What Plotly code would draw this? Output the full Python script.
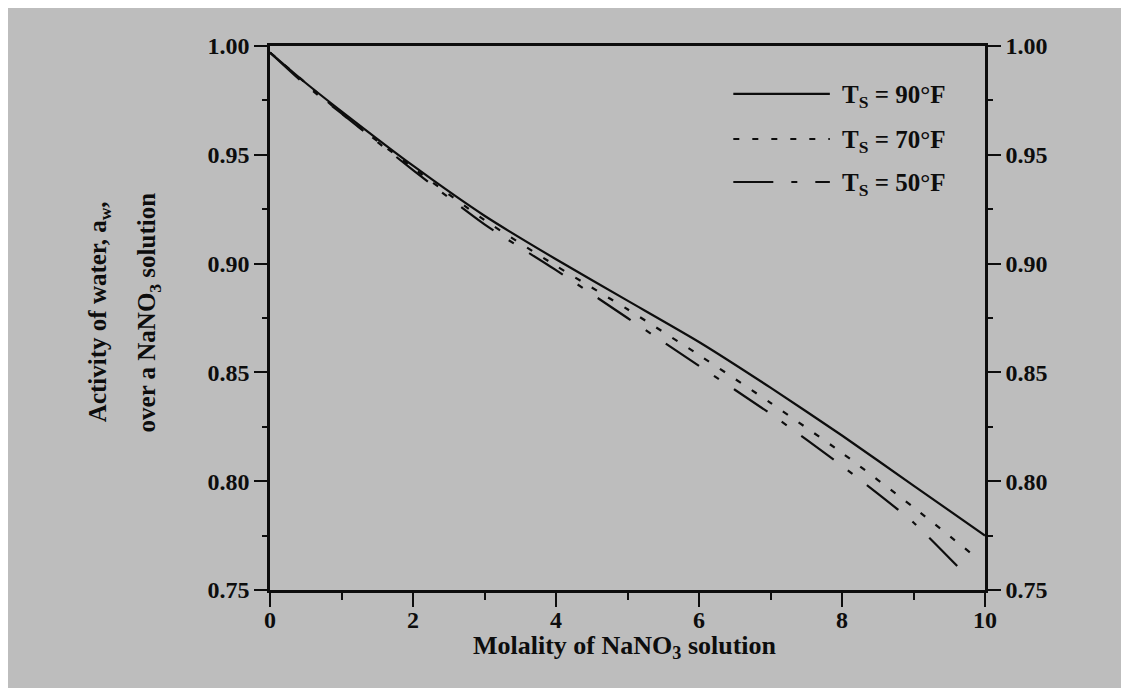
import plotly.graph_objects as go

# Molality of NaNO3 solution (mol/kg) and activity of water a_w
m_90 = [0, 0.5, 1, 2, 3, 4, 5, 6, 7, 8, 9, 10]
aw_90 = [0.997, 0.983, 0.970, 0.945, 0.922, 0.902, 0.883, 0.864, 0.843, 0.821, 0.798, 0.775]

m_70 = [0, 0.5, 1, 2, 3, 4, 5, 6, 7, 8, 9, 9.8]
aw_70 = [0.997, 0.983, 0.969, 0.944, 0.920, 0.899, 0.879, 0.858, 0.836, 0.813, 0.788, 0.767]

m_50 = [0, 0.5, 1, 2, 3, 4, 5, 6, 7, 8, 9, 9.7]
aw_50 = [0.997, 0.982, 0.969, 0.943, 0.918, 0.897, 0.875, 0.853, 0.831, 0.807, 0.781, 0.758]

names = ["T<sub>S</sub> = 90°F", "T<sub>S</sub> = 70°F", "T<sub>S</sub> = 50°F"]

x_ticks = [0, 2, 4, 6, 8, 10]
y_ticks = [0.75, 0.80, 0.85, 0.90, 0.95, 1.00]
y_ticklabels = ["0.75", "0.80", "0.85", "0.90", "0.95", "1.00"]

FONT = "Liberation Serif"
BG = "#bdbdbd"
INK = "#0d0d0d"
DASHES = ["solid", "6px,13px", "40px,18px,6px,18px"]

fig = go.Figure()
series = [(m_90, aw_90), (m_70, aw_70), (m_50, aw_50)]
for (mx, aw), nm, dsh in zip(series, names, DASHES):
    fig.add_trace(go.Scatter(x=mx, y=aw, mode="lines", name=nm, showlegend=False,
                             line=dict(color=INK, width=2.2, dash=dsh, shape="spline", smoothing=0.6)))
# invisible trace to carry the right-hand axis
fig.add_trace(go.Scatter(x=m_90, y=aw_90, mode="lines", yaxis="y2", showlegend=False,
                         hoverinfo="skip", line=dict(color="rgba(0,0,0,0)", width=0)))

tick_font = dict(family=FONT, size=24, color=INK, weight="bold")
title_font = dict(family=FONT, size=25, color=INK, weight="bold")

# hand-drawn legend (long line samples as in the original figure)
legend_rows_y = [0.908, 0.825, 0.746]
shapes = []
annotations = []
for yy, nm, dsh in zip(legend_rows_y, names, DASHES):
    shapes.append(dict(type="line", xref="paper", yref="paper", x0=0.648, x1=0.783,
                       y0=yy + 0.004, y1=yy + 0.004, line=dict(color=INK, width=2.2, dash=dsh)))
    annotations.append(dict(text=nm, xref="paper", yref="paper", x=0.797, y=yy,
                            xanchor="left", yanchor="middle", showarrow=False,
                            font=dict(family=FONT, size=25, color=INK, weight="bold")))

annotations += [
    dict(text="Activity of water, a<sub>w</sub>,", textangle=-90, xref="paper", yref="paper",
         x=-0.239, y=0.511, xanchor="center", yanchor="middle", showarrow=False, font=title_font),
    dict(text="over a NaNO<sub>3</sub> solution", textangle=-90, xref="paper", yref="paper",
         x=-0.170, y=0.511, xanchor="center", yanchor="middle", showarrow=False, font=title_font),
    dict(text="Molality of NaNO<sub>3</sub> solution", xref="paper", yref="paper",
         x=0.496, y=-0.105, xanchor="center", yanchor="middle", showarrow=False,
         font=dict(family=FONT, size=26, color=INK, weight="bold")),
]

minor_y = dict(dtick=0.025, tick0=0.75, ticks="outside", ticklen=5, tickwidth=1.5, tickcolor=INK)

fig.update_layout(
    width=1129, height=688,
    paper_bgcolor=BG, plot_bgcolor=BG,
    margin=dict(l=262, r=152, t=38, b=106),
    font=dict(family=FONT, size=24, color=INK),
    showlegend=False,
    shapes=shapes,
    annotations=annotations,
    xaxis=dict(range=[0, 10], tickvals=x_ticks, ticktext=[str(v) for v in x_ticks],
               ticks="outside", ticklen=14, tickwidth=2, tickcolor=INK,
               ticklabelstandoff=-8,
               showline=True, linecolor=INK, linewidth=2.5, mirror=True,
               showgrid=False, zeroline=False, tickfont=tick_font,
               minor=dict(dtick=1, ticks="outside", ticklen=7, tickwidth=1.5, tickcolor=INK)),
    yaxis=dict(range=[0.75, 1.00], tickvals=y_ticks, ticktext=y_ticklabels,
               ticks="outside", ticklen=13, tickwidth=2, tickcolor=INK,
               showline=True, linecolor=INK, linewidth=2.5,
               showgrid=False, zeroline=False, tickfont=tick_font, minor=minor_y),
    yaxis2=dict(range=[0.75, 1.00], tickvals=y_ticks, ticktext=y_ticklabels,
                overlaying="y", side="right",
                ticks="outside", ticklen=13, tickwidth=2, tickcolor=INK,
                showline=True, linecolor=INK, linewidth=2.5,
                showgrid=False, zeroline=False, tickfont=tick_font, minor=minor_y),
)

fig.write_html("out.html")
